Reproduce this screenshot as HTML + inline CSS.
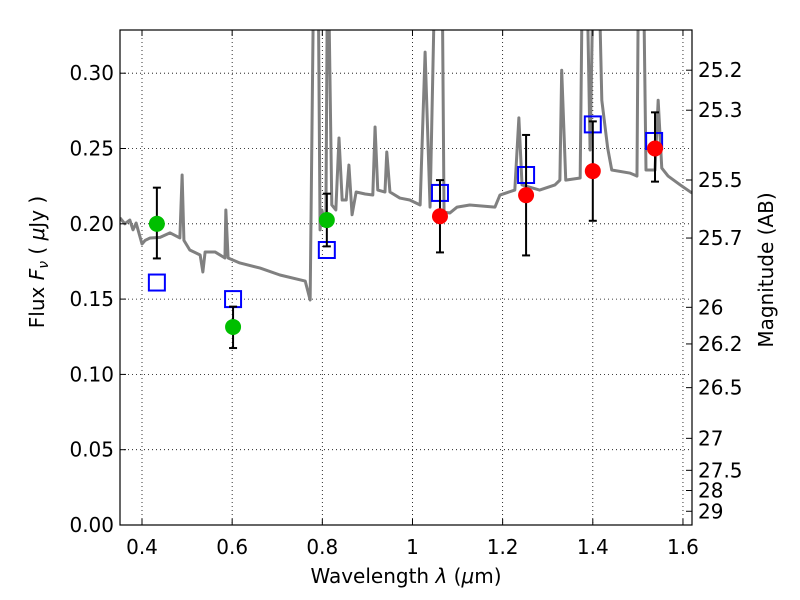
<!DOCTYPE html>
<html><head><meta charset="utf-8"><style>
body{margin:0;background:#fff}
svg{display:block;font-family:"DejaVu Sans","Liberation Sans",sans-serif}
</style></head><body>
<svg id="chart" width="800" height="600" viewBox="0 0 800 600" xmlns="http://www.w3.org/2000/svg">
<defs><clipPath id="clip"><rect x="120" y="30" width="572" height="495"/></clipPath></defs>
<rect width="800" height="600" fill="#fff"/>
<g id="grid"></g>
<g id="spec" clip-path="url(#clip)"></g>
<g id="pts"></g>
<rect x="120" y="30" width="572" height="495" fill="none" stroke="#000" stroke-width="1.2"/>
<g id="axes"></g>
<text x="406" y="583" font-size="20" text-anchor="middle">Wavelength  <tspan font-style="italic">λ</tspan> (<tspan font-style="italic">μ</tspan>m)</text>
<text transform="translate(44,262) rotate(-90)" font-size="20" text-anchor="middle">Flux  <tspan font-style="italic">F</tspan><tspan font-style="italic" font-size="14" dy="4">ν</tspan><tspan dy="-4">  (  </tspan><tspan font-style="italic">μ</tspan>Jy )</text>
<text transform="translate(773,270) rotate(-90)" font-size="20" text-anchor="middle">Magnitude (AB)</text>
</svg>
<script>
const xTicks=[0.4,0.6,0.8,1.0,1.2,1.4,1.6];
const xTickLabels=["0.4","0.6","0.8","1","1.2","1.4","1.6"];
const yTicks=[0,0.05,0.10,0.15,0.20,0.25,0.30];
const yTickLabels=["0.00","0.05","0.10","0.15","0.20","0.25","0.30"];
const magTicks=[25.2,25.3,25.5,25.7,26,26.2,26.5,27,27.5,28,29];
const magTickLabels=["25.2","25.3","25.5","25.7","26","26.2","26.5","27","27.5","28","29"];
const specWave=[0.351,0.362,0.373,0.380,0.387,0.400,0.407,0.418,0.440,0.462,0.484,0.489,0.493,0.506,0.529,0.535,0.540,0.562,0.584,0.586,0.591,0.617,0.662,0.706,0.762,0.773,0.782,0.790,0.795,0.799,0.804,0.808,0.812,0.821,0.830,0.837,0.844,0.853,0.859,0.866,0.875,0.895,0.912,0.917,0.923,0.939,0.943,0.950,0.972,0.994,1.017,1.028,1.039,1.052,1.065,1.070,1.083,1.099,1.127,1.183,1.194,1.227,1.236,1.243,1.282,1.316,1.327,1.331,1.340,1.372,1.378,1.385,1.394,1.403,1.411,1.420,1.433,1.442,1.482,1.498,1.502,1.511,1.518,1.538,1.545,1.553,1.567,1.594,1.620];
const specFlux=[0.204,0.200,0.2025,0.196,0.2005,0.1866,0.189,0.1906,0.191,0.194,0.1906,0.2324,0.189,0.1826,0.1793,0.168,0.1813,0.1813,0.1773,0.2092,0.1773,0.174,0.1706,0.166,0.162,0.1494,0.40,0.40,0.196,0.2092,0.2025,0.206,0.40,0.2125,0.2092,0.257,0.2158,0.2158,0.239,0.206,0.2211,0.2198,0.2191,0.2643,0.2224,0.2211,0.2477,0.2211,0.2171,0.2158,0.2125,0.314,0.2111,0.40,0.40,0.2078,0.2072,0.2111,0.2125,0.2111,0.2191,0.2224,0.2703,0.2258,0.2224,0.2258,0.229,0.302,0.229,0.2304,0.40,0.40,0.249,0.40,0.40,0.282,0.2503,0.2357,0.2337,0.2317,0.40,0.40,0.2357,0.2357,0.282,0.237,0.2317,0.2258,0.2204];
const greenWave=[0.433,0.602,0.810];
const greenFlux=[0.200,0.1315,0.2025];
const greenErrHi=[0.224,0.145,0.220];
const greenErrLo=[0.177,0.1175,0.185];
const redWave=[1.061,1.252,1.400,1.538];
const redFlux=[0.205,0.219,0.235,0.250];
const redErrHi=[0.229,0.259,0.268,0.274];
const redErrLo=[0.181,0.179,0.202,0.228];
const modelWave=[0.433,0.602,0.810,1.061,1.252,1.400,1.536];
const modelFlux=[0.161,0.150,0.1826,0.2205,0.2324,0.266,0.255];

const NS="http://www.w3.org/2000/svg";
const X=v=>142+(v-0.4)*450.8;
const Y=f=>525-f*1506;
function mk(p,t,a){const e=document.createElementNS(NS,t);for(const k in a)e.setAttribute(k,a[k]);p.appendChild(e);return e;}
const grid=document.getElementById('grid'),axes=document.getElementById('axes');
xTicks.forEach((v,i)=>{
  const l=mk(grid,'line',{x1:X(v),x2:X(v),y1:30,y2:525,stroke:'#000','stroke-width':0.8,'stroke-dasharray':'1,3'});
  
  
  mk(axes,'line',{x1:X(v),x2:X(v),y1:525,y2:519,stroke:'#000'});
  mk(axes,'line',{x1:X(v),x2:X(v),y1:30,y2:36,stroke:'#000'});
  const t=mk(axes,'text',{x:X(v),y:554,'font-size':20,'text-anchor':'middle'});t.textContent=xTickLabels[i];
  
  
});
yTicks.forEach((v,i)=>{
  const l=mk(grid,'line',{x1:120,x2:692,y1:Y(v),y2:Y(v),stroke:'#000','stroke-width':0.8,'stroke-dasharray':'1,3'});
  
  
  mk(axes,'line',{x1:120,x2:126,y1:Y(v),y2:Y(v),stroke:'#000'});
  const t=mk(axes,'text',{x:114,y:Y(v)+7,'font-size':20,'text-anchor':'end'});t.textContent=yTickLabels[i];
  
  
});
magTicks.forEach((m,i)=>{
  const f=Math.pow(10,(23.9-m)/2.5);const y=Y(f);
  mk(axes,'line',{x1:686,x2:692,y1:y,y2:y,stroke:'#000'});
  const t=mk(axes,'text',{x:698,y:y+7,'font-size':20});t.textContent=magTickLabels[i];
  
  
});
const spec=document.getElementById('spec');
const p=mk(spec,'polyline',{points:specWave.map((w,i)=>X(w)+','+Y(specFlux[i])).join(' '),fill:'none',stroke:'#808080','stroke-width':3,'stroke-linejoin':'round'});


const pts=document.getElementById('pts');
function errbar(w,hi,lo){
  const g=mk(pts,'g',{stroke:'#000','stroke-width':2});
  
  
  mk(g,'line',{x1:X(w),x2:X(w),y1:Y(hi),y2:Y(lo)});
  mk(g,'line',{x1:X(w)-4,x2:X(w)+4,y1:Y(hi),y2:Y(hi)});
  mk(g,'line',{x1:X(w)-4,x2:X(w)+4,y1:Y(lo),y2:Y(lo)});
}
modelWave.forEach((w,i)=>{
  const r=mk(pts,'rect',{x:X(w)-8,y:Y(modelFlux[i])-8,width:16,height:16,fill:'none',stroke:'#0000ff','stroke-width':2});
  
  
});
greenWave.forEach((w,i)=>{
  errbar(w,greenErrHi[i],greenErrLo[i]);
  const c=mk(pts,'circle',{cx:X(w),cy:Y(greenFlux[i]),r:8,fill:'#00bf00'});
  
  
});
redWave.forEach((w,i)=>{
  errbar(w,redErrHi[i],redErrLo[i]);
  const c=mk(pts,'circle',{cx:X(w),cy:Y(redFlux[i]),r:8,fill:'#ff0000'});
  
  
});
</script>
</body></html>
